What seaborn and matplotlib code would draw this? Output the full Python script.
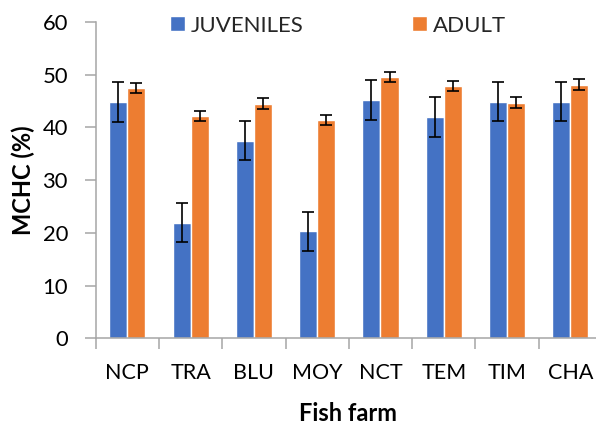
import matplotlib
matplotlib.use("Agg")
import matplotlib.pyplot as plt
import seaborn as sns
import pandas as pd
import numpy as np

farms = ["NCP", "TRA", "BLU", "MOY", "NCT", "TEM", "TIM", "CHA"]
juvenile_mean = [44.8, 21.9, 37.5, 20.3, 45.2, 42.0, 44.9, 44.9]
juvenile_err = [3.8, 3.7, 3.7, 3.7, 3.8, 3.8, 3.7, 3.7]
adult_mean = [47.5, 42.2, 44.5, 41.4, 49.6, 47.9, 44.7, 48.1]
adult_err = [1.0, 1.0, 1.0, 1.0, 1.0, 1.0, 1.0, 1.0]
groups = ["JUVENILES", "ADULT"]
colors = ["#4472C4", "#ED7D31"]

df = pd.DataFrame({
    "farm": farms * 2,
    "group": [groups[0]] * len(farms) + [groups[1]] * len(farms),
    "value": juvenile_mean + adult_mean,
    "err": juvenile_err + adult_err,
})

sns.set_theme(style="white")
plt.rcParams["font.family"] = ["Lato", "DejaVu Sans"]

fig = plt.figure(figsize=(5.96, 4.23), dpi=100)
W, H = 596, 423
left, right, bottom, top = 95.7, 602.0, 338.3, 22.0
ax = fig.add_axes([left / W, 1 - bottom / H, (right - left) / W, (bottom - top) / H])

sns.barplot(data=df, x="farm", y="value", hue="group", order=farms,
            hue_order=groups, palette=colors, width=0.57, gap=0,
            errorbar=None, saturation=1, ax=ax, legend=True)

# error bars centred on each drawn bar
for container, grp in zip(ax.containers, groups):
    sub = df[df["group"] == grp].set_index("farm").loc[farms]
    xs = [p.get_x() + p.get_width() / 2 for p in container.patches]
    ax.errorbar(xs, sub["value"].values, yerr=sub["err"].values, fmt="none",
                ecolor="black", elinewidth=1.2, capsize=4.5, capthick=1.2, zorder=5)

ax.set_ylim(0, 60)
ax.set_xlim(-0.5, len(farms) - 0.5)
ax.set_yticks(np.arange(0, 61, 10))

axis_gray = "#A6A6A6"
for side in ["top", "right"]:
    ax.spines[side].set_visible(False)
for side in ["left", "bottom"]:
    ax.spines[side].set_color(axis_gray)
    ax.spines[side].set_linewidth(1.1)

ax.set_xticks(np.arange(-0.5, len(farms), 1.0), minor=True)
ax.tick_params(axis="x", which="major", length=0, pad=18, labelsize=15.5, labelcolor="black")
ax.tick_params(axis="x", which="minor", length=8, width=1.1, color=axis_gray, direction="out", bottom=True)
ax.tick_params(axis="y", which="major", length=8, width=1.1, color=axis_gray, direction="out",
               pad=12, labelsize=15.8, labelcolor="black", left=True)

ax.set_xlabel("Fish farm", fontsize=17, fontweight="bold", color="black")
ax.set_ylabel("MCHC (%)", fontsize=17, fontweight="bold", color="black")
ax.xaxis.set_label_coords((348 - left) / (right - left), -(413 - bottom) / (bottom - top), transform=ax.transAxes)
ax.xaxis.label.set_va("center")
ax.yaxis.set_label_coords(-(left - 23) / (right - left), 0.5)
ax.yaxis.label.set_va("center")

handles, labels = ax.get_legend_handles_labels()
ax.legend(handles, labels, loc="center left", bbox_to_anchor=(170 / W, 1 - 25.5 / H),
          bbox_transform=fig.transFigure, ncol=2, frameon=False, fontsize=16,
          handlelength=0.675, handleheight=0.675, handletextpad=0.27, columnspacing=4.85,
          borderpad=0, borderaxespad=0)

fig.savefig("out.png", dpi=100)
